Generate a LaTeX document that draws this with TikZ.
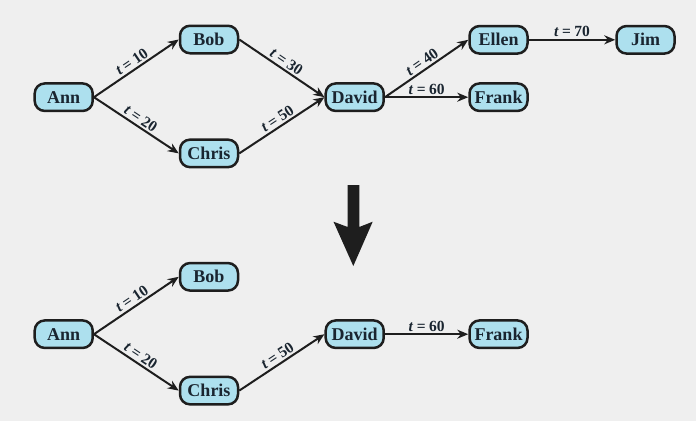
\documentclass[tikz,border=0pt]{standalone}
\usepackage{fontspec}
\setmainfont{Liberation Serif}
\usetikzlibrary{arrows.meta}
\definecolor{bg}{HTML}{EFEFEF}
\definecolor{nodefill}{HTML}{ADE0EE}
\definecolor{ink}{HTML}{1E1E1E}
\definecolor{txt}{HTML}{1A2530}
\tikzset{
  person/.style={draw=ink, line width=2.5pt, fill=nodefill, rounded corners=10pt,
    minimum width=58pt, minimum height=27.5pt, inner sep=0pt,
    font=\fontsize{18}{18}\selectfont\bfseries, text=txt},
  link/.style={draw=ink, line width=2pt, -{Stealth[length=11pt,width=9pt]}},
  tl/.style={sloped, above, inner sep=2pt, font=\fontsize{15.5}{15.5}\selectfont\bfseries, text=txt},
  bigarrow/.style={fill=ink, draw=none}
}
\newcommand{\tlab}[1]{\textit{t}\hspace{0.22em}=\hspace{0.22em}#1}
\begin{document}
\begin{tikzpicture}[x=1pt,y=-1pt]
\fill[bg] (0,0) rectangle (696,421);
\useasboundingbox (0,0) rectangle (696,421);
% top graph
\node[person] (ann) at (63.7,97.2) {Ann};
\node[person] (bob) at (209,39.5) {Bob};
\node[person] (chris) at (209,153.4) {Chris};
\node[person] (david) at (354.7,97.2) {David};
\node[person] (ellen) at (498.5,39.8) {Ellen};
\node[person] (jim) at (645.5,39.8) {Jim};
\node[person] (frank) at (498.5,97.2) {Frank};
\draw[link] (ann.east) -- node[tl] {\tlab{10}} (bob.west);
\draw[link] (ann.east) -- node[tl] {\tlab{20}} (chris.west);
\draw[link] (bob.east) -- node[tl] {\tlab{30}} (david.west);
\draw[link] (chris.east) -- node[tl] {\tlab{50}} (david.west);
\draw[link] (david.east) -- node[tl] {\tlab{40}} (ellen.west);
\draw[link] (david.east) -- node[tl] {\tlab{60}} (frank.west);
\draw[link] (ellen.east) -- node[tl] {\tlab{70}} (jim.west);
% big arrow
\fill[bigarrow] (347.7,185) -- (359.3,185) -- (359.3,227) -- (372.7,221.7) -- (353.3,266)
  -- (333.5,221.7) -- (347.7,227) -- cycle;
% bottom graph
\node[person] (ann2) at (63.7,334.2) {Ann};
\node[person] (bob2) at (209,276.8) {Bob};
\node[person] (chris2) at (209,390.6) {Chris};
\node[person] (david2) at (354.7,334.2) {David};
\node[person] (frank2) at (498.5,334.2) {Frank};
\draw[link] (ann2.east) -- node[tl] {\tlab{10}} (bob2.west);
\draw[link] (ann2.east) -- node[tl] {\tlab{20}} (chris2.west);
\draw[link] (chris2.east) -- node[tl] {\tlab{50}} (david2.west);
\draw[link] (david2.east) -- node[tl] {\tlab{60}} (frank2.west);
\end{tikzpicture}
\end{document}
